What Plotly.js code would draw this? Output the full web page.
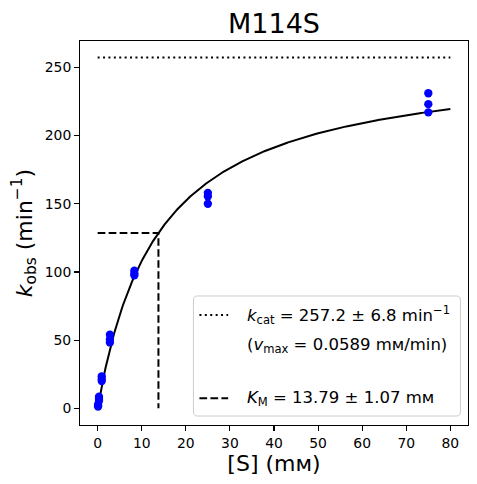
<!DOCTYPE html>
<html>
<head>
<meta charset="utf-8">
<script src="https://cdn.plot.ly/plotly-3.0.1.min.js"></script>
<style>html,body{margin:0;padding:0;background:#fff;}#chart{width:477px;height:484px;}</style>
</head>
<body>
<div id="chart"></div>
<script>
// ---- data ----
var substrate = [0.1,0.1,0.1, 0.31,0.31,0.31, 0.93,0.93,0.93, 2.78,2.78,2.78, 8.33,8.33,8.33, 25,25,25, 75,75,75];
var kobs      = [1.3,2.0,2.8, 5.5,7.0,8.6, 20.0,21.5,23.5, 48.3,50.5,54.0, 97.5,99.0,101.0, 150.0,155.5,158.0, 217.0,223.0,231.0];
var kcat = 257.2, kcatErr = 6.8;
var Km = 13.79, KmErr = 1.07;
var vmax = 0.0589;
var fitMax = 80;
var xTicks = [0,10,20,30,40,50,60,70,80];
var yTicks = [0,50,100,150,200,250];

// fitted Michaelis–Menten curve from the fit parameters
var fitX = [], fitY = [];
for (var i = 0; i <= 400; i++) { var s = fitMax * i / 400; fitX.push(s); fitY.push(kcat * s / (Km + s)); }

var font = 'DejaVu Sans, sans-serif';
var mM = 'm\u1D0D';

var traces = [
  {x: fitX, y: fitY, mode: 'lines', line: {color: '#000', width: 2}, hoverinfo: 'skip'},
  {x: [0, fitMax], y: [kcat, kcat], mode: 'lines', line: {color: '#000', width: 2, dash: '2px,3.4px'}},
  {x: [0, Km, Km], y: [kcat/2, kcat/2, 0], mode: 'lines', line: {color: '#000', width: 2, dash: '7.7px,3.3px'}},
  {x: substrate, y: kobs, mode: 'markers', marker: {color: '#0000ff', size: 8.3}}
];

// legend geometry (paper units)
var L = {x0: 0.2923, x1: 0.9804, y0: 0.0234, y1: 0.336};
var rx = 4/387.6, ry = 4/384;
var boxPath = 'M' + (L.x0+rx) + ',' + L.y0 + ' L' + (L.x1-rx) + ',' + L.y0 + ' Q' + L.x1 + ',' + L.y0 + ' ' + L.x1 + ',' + (L.y0+ry) +
  ' L' + L.x1 + ',' + (L.y1-ry) + ' Q' + L.x1 + ',' + L.y1 + ' ' + (L.x1-rx) + ',' + L.y1 +
  ' L' + (L.x0+rx) + ',' + L.y1 + ' Q' + L.x0 + ',' + L.y1 + ' ' + L.x0 + ',' + (L.y1-ry) +
  ' L' + L.x0 + ',' + (L.y0+ry) + ' Q' + L.x0 + ',' + L.y0 + ' ' + (L.x0+rx) + ',' + L.y0 + ' Z';

var legX0 = 0.3078, legX1 = 0.3818, textX = 0.4257;
var rowK = 0.2865, rowV = 0.2083, rowM = 0.0695;

var layout = {
  width: 477, height: 484,
  margin: {l: 80, r: 9.4, t: 41, b: 59},
  paper_bgcolor: '#fff', plot_bgcolor: '#fff',
  showlegend: false,
  font: {family: font, color: '#000', size: 13.9},
  title: {text: 'M114S', font: {family: font, size: 27, color: '#000'}, x: 0.5, xref: 'paper', y: 1 - 23.5/484, yref: 'container', yanchor: 'middle'},
  xaxis: {
    range: [-4, 84], tickvals: xTicks, ticks: 'outside', ticklen: 4.9, tickwidth: 1.1, tickcolor: '#000',
    showline: true, mirror: true, linecolor: '#000', linewidth: 1.1, showgrid: false, zeroline: false,
    tickfont: {family: font, size: 13.9, color: '#000'},
    title: {text: '[S] (' + mM + ')', font: {family: font, size: 22, color: '#000'}, standoff: 5}
  },
  yaxis: {
    range: [-12.2, 269.3], tickvals: yTicks, ticks: 'outside', ticklen: 4.9, tickwidth: 1.1, tickcolor: '#000',
    showline: true, mirror: true, linecolor: '#000', linewidth: 1.1, showgrid: false, zeroline: false,
    tickfont: {family: font, size: 13.9, color: '#000'},
    title: {text: '<i>k</i><sub>obs</sub> (min<sup>\u22121</sup>)', font: {family: font, size: 22, color: '#000'}, standoff: 6}
  },
  shapes: [
    {type: 'path', xref: 'paper', yref: 'paper', path: boxPath, fillcolor: 'rgba(255,255,255,0.8)', line: {color: '#cccccc', width: 1}},
    {type: 'line', xref: 'paper', yref: 'paper', x0: legX0, x1: legX1, y0: rowK, y1: rowK, line: {color: '#000', width: 2, dash: '2px,3.4px'}},
    {type: 'line', xref: 'paper', yref: 'paper', x0: legX0, x1: legX1, y0: rowM, y1: rowM, line: {color: '#000', width: 2, dash: '7.7px,3.3px'}}
  ],
  annotations: [
    {xref: 'paper', yref: 'paper', x: textX, y: rowK, xanchor: 'left', yanchor: 'middle', showarrow: false,
     text: '<i>k</i><sub>cat</sub> = ' + kcat.toFixed(1) + ' \u00B1 ' + kcatErr.toFixed(1) + ' min<sup>\u22121</sup>', font: {family: font, size: 16.5, color: '#000'}},
    {xref: 'paper', yref: 'paper', x: textX, y: rowV, xanchor: 'left', yanchor: 'middle', showarrow: false,
     text: '(<i>v</i><sub>max</sub> = ' + vmax.toFixed(4) + ' ' + mM + '/min)', font: {family: font, size: 16.5, color: '#000'}},
    {xref: 'paper', yref: 'paper', x: textX, y: rowM, xanchor: 'left', yanchor: 'middle', showarrow: false,
     text: '<i>K</i><sub>M</sub> = ' + Km.toFixed(2) + ' \u00B1 ' + KmErr.toFixed(2) + ' ' + mM, font: {family: font, size: 16.5, color: '#000'}}
  ]
};

Plotly.newPlot('chart', traces, layout, {staticPlot: true, displayModeBar: false});
</script>
</body>
</html>
